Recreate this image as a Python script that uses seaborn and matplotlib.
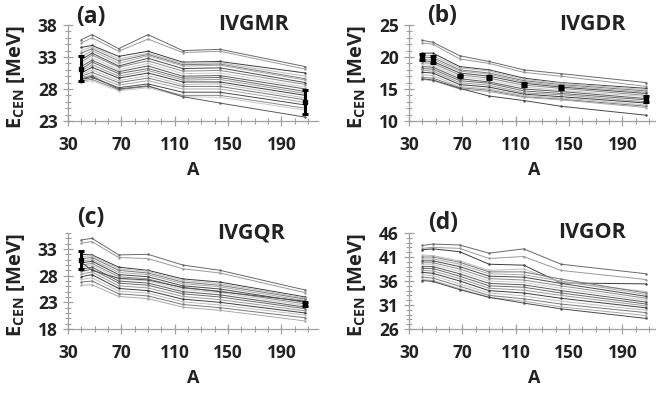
import numpy as np
import pandas as pd
import matplotlib
matplotlib.use("Agg")
import matplotlib.pyplot as plt
import matplotlib.ticker as ticker
import seaborn as sns

# mass numbers of the nuclei (40Ca, 48Ca, 68Ni, 90Zr, 116Sn, 144Sm, 208Pb)
A = [40, 48, 68, 90, 116, 144, 208]

# centroid energies E_CEN [MeV], one list per model
ivgmr = [
    [35.7, 36.5, 34.3, 36.5, 34.0, 34.2, 31.5],
    [35.2, 36.0, 33.9, 35.8, 33.7, 33.9, 31.1],
    [34.5, 34.8, 33.1, 33.9, 32.2, 32.3, 30.5],
    [34.0, 34.6, 32.7, 33.6, 32.0, 32.1, 30.0],
    [33.6, 34.3, 32.4, 33.4, 31.8, 31.9, 29.6],
    [33.0, 34.0, 32.0, 33.2, 31.6, 31.7, 29.4],
    [32.6, 33.6, 31.6, 32.8, 31.2, 31.3, 29.0],
    [32.2, 33.3, 31.4, 32.4, 30.8, 30.9, 28.7],
    [31.8, 32.9, 31.0, 32.0, 30.4, 30.5, 28.3],
    [31.5, 32.5, 30.7, 31.6, 30.0, 30.1, 28.0],
    [31.1, 32.2, 30.4, 31.2, 29.7, 29.8, 27.6],
    [30.8, 31.8, 30.0, 30.9, 29.4, 29.5, 27.3],
    [30.5, 31.4, 29.7, 30.5, 29.1, 29.1, 27.0],
    [30.2, 31.0, 29.3, 30.1, 28.7, 28.8, 26.6],
    [30.0, 30.6, 29.0, 29.7, 28.4, 28.4, 26.3],
    [29.8, 30.2, 28.6, 29.3, 28.0, 28.0, 25.9],
    [29.5, 29.8, 28.2, 28.8, 27.5, 27.5, 25.5],
    [29.3, 29.5, 27.9, 28.4, 27.0, 27.0, 25.0],
    [29.0, 29.3, 27.7, 28.2, 26.8, 26.7, 24.7],
    [29.6, 30.0, 28.0, 28.5, 26.8, 25.8, 23.6],
]

ivgdr = [
    [22.6, 22.3, 20.2, 19.3, 18.0, 17.4, 16.0],
    [22.2, 22.0, 19.7, 19.0, 17.6, 17.0, 15.4],
    [20.6, 20.6, 18.5, 18.0, 16.7, 16.0, 15.1],
    [20.3, 20.2, 18.3, 17.8, 16.5, 15.9, 14.9],
    [20.0, 19.9, 18.0, 17.5, 16.3, 15.7, 14.7],
    [19.7, 19.6, 17.8, 17.3, 16.1, 15.5, 14.5],
    [19.4, 19.3, 17.5, 17.0, 15.9, 15.3, 14.3],
    [19.1, 19.0, 17.2, 16.7, 15.6, 15.1, 14.0],
    [18.8, 18.7, 16.9, 16.4, 15.3, 14.8, 13.8],
    [18.5, 18.4, 16.6, 16.1, 15.0, 14.6, 13.5],
    [18.2, 18.1, 16.3, 15.9, 14.7, 14.3, 13.3],
    [17.9, 17.8, 16.0, 15.6, 14.4, 14.1, 13.0],
    [17.6, 17.5, 15.7, 15.3, 14.2, 13.8, 12.8],
    [17.2, 17.1, 15.4, 15.0, 14.0, 13.6, 12.5],
    [16.8, 16.7, 15.2, 14.8, 13.8, 13.4, 12.3],
    [16.5, 16.3, 15.0, 14.6, 13.7, 13.3, 12.1],
    [16.6, 16.4, 15.1, 13.9, 13.2, 12.3, 10.9],
]

ivgqr = [
    [34.7, 35.0, 31.9, 32.0, 30.0, 29.0, 25.3],
    [34.1, 34.4, 31.4, 31.2, 29.3, 28.5, 24.8],
    [32.0, 31.9, 29.6, 29.0, 27.4, 26.8, 24.0],
    [31.6, 31.7, 29.3, 28.8, 27.1, 26.5, 23.8],
    [31.2, 31.4, 29.0, 28.5, 26.8, 26.2, 23.6],
    [30.8, 31.0, 28.6, 28.2, 26.5, 25.9, 23.3],
    [30.4, 30.7, 28.2, 27.8, 26.1, 25.5, 23.0],
    [30.0, 30.3, 27.8, 27.4, 25.7, 25.1, 22.7],
    [29.6, 30.0, 27.4, 27.0, 25.4, 24.8, 22.4],
    [29.2, 29.6, 27.0, 26.6, 25.0, 24.4, 22.1],
    [28.8, 29.2, 26.6, 26.2, 24.6, 24.0, 21.8],
    [28.3, 28.7, 26.1, 25.7, 24.1, 23.5, 21.4],
    [27.8, 28.2, 25.6, 25.2, 23.6, 23.0, 21.0],
    [27.3, 27.6, 25.1, 24.7, 23.1, 22.5, 20.6],
    [26.8, 27.0, 24.6, 24.2, 22.6, 22.0, 20.1],
    [26.2, 26.3, 24.1, 23.7, 22.1, 21.5, 19.5],
    [30.5, 29.0, 27.5, 27.2, 25.8, 25.0, 23.2],
]

ivgor = [
    [43.4, 43.7, 43.5, 41.8, 42.7, 39.5, 37.5],
    [42.8, 43.0, 42.8, 40.7, 41.1, 38.2, 36.3],
    [42.5, 42.7, 42.1, 39.5, 39.3, 35.6, 35.4],
    [41.4, 41.3, 40.2, 38.2, 38.5, 35.8, 33.8],
    [41.0, 41.0, 39.9, 37.9, 37.9, 36.4, 33.5],
    [40.6, 40.6, 39.5, 37.5, 37.3, 36.0, 33.2],
    [40.2, 40.2, 39.0, 37.0, 36.8, 35.5, 32.8],
    [39.8, 39.8, 38.5, 36.5, 36.2, 35.0, 32.4],
    [39.4, 39.4, 38.0, 36.0, 35.7, 34.5, 32.0],
    [39.0, 39.0, 37.5, 35.5, 35.2, 34.0, 31.6],
    [38.6, 38.6, 37.0, 35.0, 34.7, 33.5, 31.2],
    [38.2, 38.1, 36.5, 34.5, 34.1, 33.0, 30.8],
    [37.8, 37.6, 36.0, 34.0, 33.5, 32.4, 30.4],
    [37.3, 37.1, 35.4, 33.5, 32.9, 31.8, 29.9],
    [36.8, 36.6, 34.9, 33.0, 32.3, 31.2, 29.4],
    [36.3, 36.1, 34.4, 32.6, 31.8, 30.6, 28.8],
    [36.1, 35.9, 34.2, 32.6, 31.4, 30.2, 28.2],
]

# experimental values with uncertainties
exp_gmr_A = [40, 208]
exp_gmr_E = [31.2, 26.0]
exp_gmr_err = [2.0, 1.9]

exp_gdr_A = [40, 48, 68, 90, 116, 144, 208]
exp_gdr_E = [20.0, 19.6, 17.0, 16.8, 15.7, 15.2, 13.4]
exp_gdr_err = [0.5, 0.5, 0.2, 0.2, 0.2, 0.2, 0.5]

exp_gqr_A = [40, 208]
exp_gqr_E = [31.0, 22.7]
exp_gqr_err = [1.7, 0.4]

panels = [
    ("(a)", "IVGMR", ivgmr, (23, 38), [23, 28, 33, 38], (exp_gmr_A, exp_gmr_E, exp_gmr_err)),
    ("(b)", "IVGDR", ivgdr, (10, 25), [10, 15, 20, 25], (exp_gdr_A, exp_gdr_E, exp_gdr_err)),
    ("(c)", "IVGQR", ivgqr, (18, 36), [18, 23, 28, 33], (exp_gqr_A, exp_gqr_E, exp_gqr_err)),
    ("(d)", "IVGOR", ivgor, (26, 46), [26, 31, 36, 41, 46], None),
]

# label positions in axes fraction (letter x, letter y, name x)
label_pos = [(0.092, 1.083, 0.74), (0.132, 1.094, 0.732), (0.092, 1.156, 0.732), (0.136, 1.104, 0.732)]

sns.set_style("ticks")
plt.rcParams["font.family"] = ["Open Sans", "DejaVu Sans"]
plt.rcParams["font.weight"] = "bold"
plt.rcParams["axes.labelweight"] = "bold"
plt.rcParams["mathtext.fontset"] = "custom"
plt.rcParams["mathtext.rm"] = "Open Sans:bold"
plt.rcParams["mathtext.bf"] = "Open Sans:bold"

grays = ["#6a6a6a", "#9a9a9a", "#3c3c3c", "#bdbdbd", "#7a7a7a", "#aaaaaa",
         "#4a4a4a", "#8a8a8a", "#cacaca", "#5a5a5a"]

fig = plt.figure(figsize=(6.56, 3.96), dpi=100)
W, H = 656, 396
rects = [(68, 121), (409, 121), (68, 329), (409, 329)]

for i, (letter, name, lines, ylim, yticks, exp) in enumerate(panels):
    left, bottom = rects[i]
    ax = fig.add_axes([left / W, 1 - bottom / H, 250 / W, 96 / H])

    rows = []
    for k, vals in enumerate(lines):
        for a, e in zip(A, vals):
            rows.append({"A": a, "E": e, "model": f"m{k}"})
    df = pd.DataFrame(rows)
    pal = [grays[k % len(grays)] for k in range(len(lines))]
    sns.lineplot(data=df, x="A", y="E", hue="model", palette=pal, estimator=None,
                 legend=False, linewidth=0.7, marker=".", markersize=3.5,
                 markeredgewidth=0, ax=ax)

    if exp is not None:
        ax.errorbar(exp[0], exp[1], yerr=exp[2], fmt="s", color="black",
                    markersize=3.5, elinewidth=2.2, capsize=2.5, capthick=2.2, zorder=5)

    ax.set_xlim(30, 217.5)
    ax.set_ylim(*ylim)
    ax.set_xticks([30, 70, 110, 150, 190])
    ax.set_yticks(yticks)
    ax.xaxis.set_minor_locator(ticker.MultipleLocator(10))
    ax.yaxis.set_minor_locator(ticker.MultipleLocator(1))
    for s in ["top", "right"]:
        ax.spines[s].set_visible(False)
    for s in ["left", "bottom"]:
        ax.spines[s].set_color("#a0a0a0")
        ax.spines[s].set_linewidth(0.9)
    ax.tick_params(which="major", direction="inout", length=7, width=0.9,
                   color="#a0a0a0", labelsize=12.5, labelcolor="#222222")
    ax.tick_params(axis="x", which="major", pad=7)
    ax.tick_params(axis="y", which="major", pad=4)
    ax.tick_params(which="minor", direction="inout", length=4, width=0.8, color="#a0a0a0")

    ax.set_xlabel("A", fontsize=13, labelpad=5, color="#222222")
    ax.set_ylabel(r"E$_{\mathbf{CEN}}$ [MeV]", fontsize=14.5, color="#222222")
    ax.yaxis.set_label_coords(-0.165, 0.46)

    lx, ly, nx = label_pos[i]
    ax.text(lx, ly, letter, transform=ax.transAxes, ha="center", va="center",
            fontsize=16.5, fontweight="bold", color="#222222")
    ax.text(nx, 1.0, name, transform=ax.transAxes, ha="center", va="center",
            fontsize=15.5, fontweight="bold", color="#222222")

fig.savefig("out.png", dpi=100)
